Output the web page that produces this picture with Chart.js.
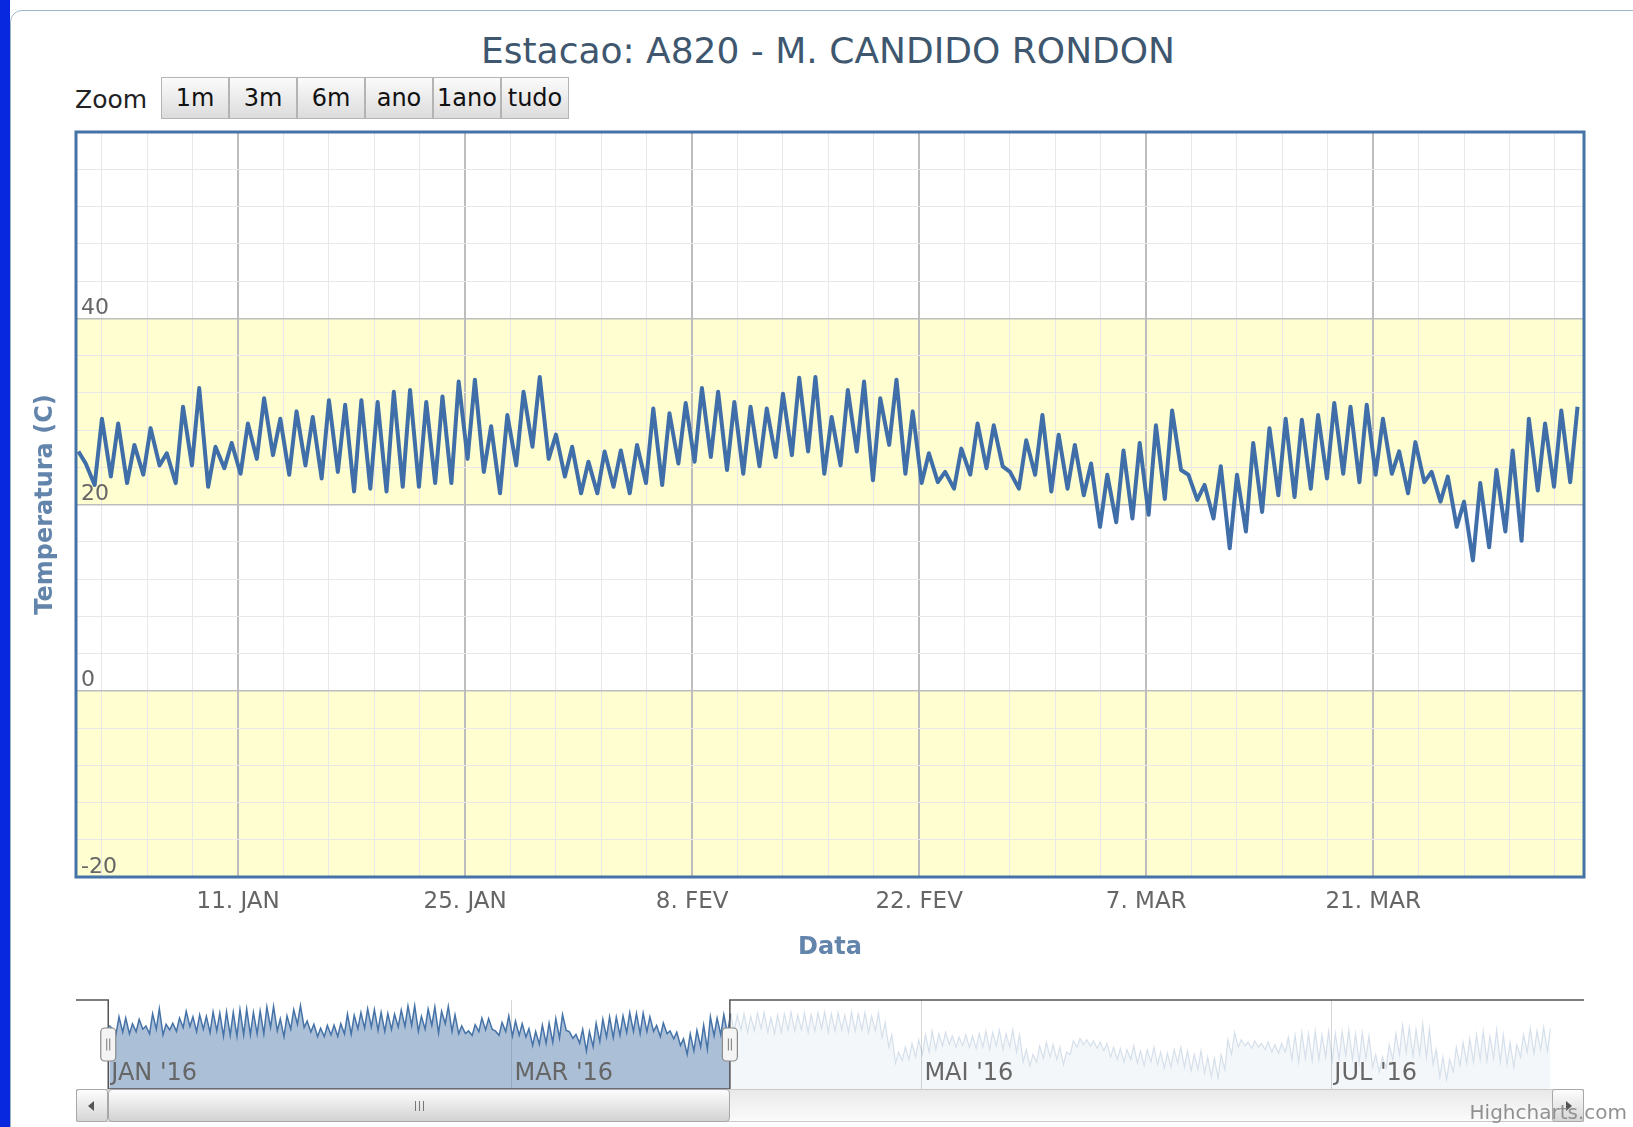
<!doctype html>
<html>
<head>
<meta charset="UTF-8">
<title>Estacao A820</title>
<script src="https://cdn.jsdelivr.net/npm/chart.js@4.4.1/dist/chart.umd.min.js"></script>
<style>
  html, body { margin: 0; padding: 0; background: #fff; }
  body { position: relative; width: 1633px; height: 1127px; overflow: hidden;
         font-family: 'DejaVu Sans', sans-serif; }
  #leftbar { position: absolute; left: 0; top: 0; width: 10px; height: 1127px; background: #0828e0; }
  #frame { position: absolute; left: 10px; top: 10px; width: 1700px; height: 1200px;
           border: 1px solid #9fb4cf; border-radius: 12px; }
  #title { position: absolute; left: 0; top: 29px; width: 1656px; text-align: center;
           font-size: 36px; line-height: 44px; color: #3e576f; }
  #zoomlabel { position: absolute; left: 75px; top: 85px; font-size: 25px; line-height: 30px; color: #222; }
  .zbtn { position: absolute; top: 77px; width: 68px; height: 42px; box-sizing: border-box;
          border: 1px solid #b4b4b4; background: linear-gradient(#fbfbfb, #dcdcdc);
          font-size: 24px; line-height: 40px; text-align: center; color: #111; }
  canvas { position: absolute; left: 0; }
  #mainChart { top: 0; }
  #navChart { top: 990px; }
  #track { position: absolute; left: 76px; top: 1089px; width: 1508px; height: 33px; box-sizing: border-box;
           border: 1px solid #cacaca; background: linear-gradient(#e9e9e9, #fbfbfb); }
  .sbtn { position: absolute; top: 1089px; width: 32px; height: 33px; box-sizing: border-box;
          border: 1px solid #a8a8a8; border-radius: 3px; background: linear-gradient(#fdfdfd, #d6d6d6); }
  .arrow { position: absolute; top: 11px; width: 0; height: 0; border-top: 5px solid transparent; border-bottom: 5px solid transparent; }
  #thumb { position: absolute; top: 1089px; left: 108px; width: 621px; height: 33px; box-sizing: border-box;
           border: 1px solid #a8a8a8; border-radius: 4px; background: linear-gradient(#fdfdfd, #d2d2d2); }
  #grip { position: absolute; left: 50%; top: 11px; width: 7px; height: 10px; margin-left: -4px;
          border-left: 1px solid #777; border-right: 1px solid #777; }
  #grip:after { content: ''; position: absolute; left: 3px; top: 0; height: 10px; border-left: 1px solid #777; }
  #credit { position: absolute; right: 6px; top: 1099px; font-size: 20px; line-height: 26px; color: #909090; }
</style>
</head>
<body>
  <div id="leftbar"></div>
  <div id="frame"></div>
  <div id="title">Estacao: A820 - M. CANDIDO RONDON</div>
  <div id="zoomlabel">Zoom</div>
  <div id="zoombtns"></div>
  <canvas id="mainChart" width="1633" height="985"></canvas>
  <canvas id="navChart" width="1633" height="137"></canvas>
  <div id="track"></div>
  <div class="sbtn" style="left:76px"><div class="arrow" style="left:11px;border-right:6px solid #555"></div></div>
  <div class="sbtn" style="left:1552px"><div class="arrow" style="left:13px;border-left:6px solid #555"></div></div>
  <div id="thumb"><div id="grip"></div></div>
  <div id="credit">Highcharts.com</div>
<script>
// daily minimum (early morning) and maximum (afternoon), 1 Jan 2016 = day 0
const dayLows = [25.7, 22.1, 23.0, 22.3, 23.2, 24.2, 22.3, 24.2, 21.9, 23.9,
                 23.3, 24.9, 25.3, 23.2, 24.2, 22.8, 23.5, 21.4, 21.7, 21.4,
                 21.9, 21.9, 22.3, 22.3, 24.9, 23.5, 21.2, 24.2, 26.2, 24.9,
                 23.0, 21.2, 21.2, 21.9, 21.2, 22.3, 22.1, 24.4, 24.6, 25.1,
                 23.7, 23.3, 24.1, 25.1, 25.3, 25.7, 23.3, 24.2, 25.7, 22.6,
                 26.4, 23.3, 22.3, 22.4, 21.7, 23.2, 23.9, 24.1, 21.7, 23.2,
                 21.4, 21.7, 21.0, 17.6, 18.1, 18.5, 18.9, 20.6, 23.7, 20.5,
                 18.5, 15.3, 17.1, 19.2, 21.0, 20.8, 21.7, 22.8, 23.3, 22.4,
                 23.2, 23.3, 21.2, 22.4, 20.3, 17.6, 14.0, 15.4, 17.1, 16.1,
                 21.5, 21.9, 22.4];
const dayHighs = [24.4, 29.2, 28.7, 26.4, 28.2, 25.5, 30.5, 32.5, 26.2, 26.6,
                  28.7, 31.4, 29.2, 30.0, 29.4, 31.2, 30.7, 31.2, 31.0, 32.1,
                  32.3, 31.0, 31.6, 33.2, 33.4, 28.4, 29.6, 32.1, 33.7, 27.5,
                  26.2, 24.6, 25.7, 25.8, 26.4, 30.3, 29.8, 30.9, 32.5, 32.1,
                  31.0, 30.5, 30.3, 31.9, 33.6, 33.7, 29.4, 32.3, 33.2, 31.4,
                  33.4, 30.0, 25.5, 23.5, 26.0, 28.7, 28.5, 23.5, 26.9, 29.6,
                  27.5, 26.4, 24.4, 23.2, 25.8, 26.6, 28.5, 30.1, 23.2, 22.1,
                  24.1, 23.2, 26.6, 28.2, 29.2, 29.1, 29.6, 30.9, 30.5, 30.7,
                  29.2, 25.7, 26.7, 23.5, 23.0, 20.3, 22.3, 23.7, 25.8, 29.2,
                  28.7, 30.1, 30.5];

// rest of the series, only visible (faded) in the navigator: day 93 .. 214
const laterLows = [23.5, 24.0, 23.0, 23.5, 24.5, 23.0, 22.5, 23.0, 24.0, 23.5, 24.0, 23.0,
                   23.5, 24.5, 23.0, 23.5, 24.0, 23.0, 23.5, 24.0, 23.0, 23.5, 21.0, 17.0,
                   10.5, 11.5, 12.0, 13.0, 14.0, 15.0, 16.0, 17.5, 18.0, 17.0, 17.5, 17.0,
                   16.5, 17.0, 16.0, 17.5, 16.0, 17.0, 15.0,
                   11.0, 9.5, 11.0, 12.5, 13.0, 12.0, 10.0, 14.0, 17.0, 18.0, 17.5, 16.5, 15.5,
                   13.0, 12.0, 11.0, 12.0, 10.5, 9.5, 11.0, 10.0, 8.5, 9.0, 10.5, 9.0,
                   7.5, 8.0, 6.5, 5.0, 4.5, 8.0,
                   14.0, 17.0, 17.5, 16.5, 17.0, 16.0, 15.0, 14.5, 15.0,
                   12.0, 11.0, 12.5, 11.5, 12.0, 13.0, 11.5, 12.0, 13.5, 12.0, 11.0, 12.5, 9.0,
                   7.0, 8.5, 12.0, 14.0, 15.0, 13.5, 14.0, 13.0, 10.0,
                   5.0, 4.0, 7.0,
                   9.5, 10.5, 11.0, 12.0, 11.5, 12.5, 11.0, 10.0, 9.0,
                   13.0, 15.0, 14.5, 16.0, 15.5];
const laterHighs = [30.0, 30.5, 29.5, 30.8, 31.0, 29.0, 30.0, 30.5, 31.2, 30.0, 30.8, 30.2,
                    31.0, 31.3, 30.5, 31.0, 30.0, 31.2, 30.4, 31.0, 29.5, 30.8, 27.0, 22.0,
                    15.0, 17.0, 18.5, 20.0, 22.0, 23.5, 22.5, 23.0, 21.5, 21.0, 22.0, 21.5,
                    22.5, 23.5, 23.0, 24.0, 22.5, 24.0, 22.0,
                    16.0, 14.0, 17.5, 19.0, 18.0, 17.0, 15.0, 19.5, 20.5, 20.0, 19.5, 19.0, 18.5,
                    17.0, 16.5, 16.0, 17.5, 15.5, 16.0, 17.0, 15.0, 14.5, 16.0, 17.0, 15.5,
                    14.0, 15.5, 13.0, 12.5, 14.0, 20.0,
                    23.0, 20.0, 19.0, 19.5, 18.5, 19.0, 18.0, 18.5, 21.0,
                    22.0, 23.0, 22.5, 23.5, 22.0, 23.5, 22.5, 23.5, 24.0, 22.5, 23.0, 21.5, 14.0,
                    13.0, 18.0, 22.5, 26.0, 25.0, 24.0, 26.5, 24.5, 16.0,
                    13.0, 12.0, 17.0,
                    19.0, 20.5, 22.0, 23.5, 21.5, 24.0, 22.0, 19.0, 18.0,
                    22.0, 24.5, 23.5, 25.0, 24.5];

const tickDays = [10, 24, 38, 52, 66, 80];
const tickLabels = ['11. JAN', '25. JAN', '8. FEV', '22. FEV', '7. MAR', '21. MAR'];
const yLabels = [-20, 0, 20, 40];
const bands = [[20, 40], [-20, 0]];
const navTickDays = [0, 60, 121, 182];
const navTickLabels = ["JAN '16", "MAR '16", "MAI '16", "JUL '16"];
const selStart = 0, selEnd = 92.5;
const zoomButtons = ['1m', '3m', '6m', 'ano', '1ano', 'tudo'];

const LOW_AT = 0.15, HIGH_AT = 0.6;   // time of day of min / max
const MINOR_DAYS = 2.8;

Chart.defaults.font.family = "'DejaVu Sans', sans-serif";

const btnHolder = document.getElementById('zoombtns');
zoomButtons.forEach((t, i) => {
  const b = document.createElement('div');
  b.className = 'zbtn';
  b.style.left = (161 + i * 68) + 'px';
  b.textContent = t;
  btnHolder.appendChild(b);
});

function dayPoints(lows, highs, firstDay) {
  const pts = [];
  for (let i = 0; i < lows.length; i++) {
    pts.push({x: firstDay + i + LOW_AT, y: lows[i]});
    pts.push({x: firstDay + i + HIGH_AT, y: highs[i]});
  }
  return pts;
}

const minorDays = [];
let d0 = tickDays[0];
while (d0 - MINOR_DAYS >= 0) d0 -= MINOR_DAYS;
for (let v = d0; v <= 93; v += MINOR_DAYS) minorDays.push(Math.round(v * 100) / 100);
const yTicks = [];
for (let v = -20; v <= 60; v += 4) yTicks.push(v);

const isMajorDay = v => tickDays.some(d => Math.abs(d - v) < 0.01);
const labelForDay = v => {
  const i = tickDays.findIndex(d => Math.abs(d - v) < 0.01);
  return i >= 0 ? tickLabels[i] : '';
};

const plotDecor = {
  id: 'plotDecor',
  beforeDraw(chart) {
    const {ctx, chartArea: a, scales: {y}} = chart;
    ctx.save();
    ctx.fillStyle = '#fefed0';
    bands.forEach(([from, to]) => {
      const y1 = y.getPixelForValue(to), y2 = y.getPixelForValue(from);
      ctx.fillRect(a.left, y1, a.right - a.left, y2 - y1);
    });
    ctx.restore();
  },
  afterDraw(chart) {
    const {ctx, chartArea: a} = chart;
    ctx.save();
    ctx.strokeStyle = '#4572a7';
    ctx.lineWidth = 3;
    ctx.strokeRect(a.left, a.top, a.right - a.left, a.bottom - a.top);
    ctx.restore();
  }
};

new Chart(document.getElementById('mainChart'), {
  type: 'line',
  data: {
    datasets: [{
      data: dayPoints(dayLows, dayHighs, 0),
      borderColor: '#3f6ea8',
      borderWidth: 4,
      borderJoinStyle: 'round',
      pointRadius: 0,
      tension: 0,
      fill: false
    }]
  },
  options: {
    responsive: false,
    animation: false,
    devicePixelRatio: 1,
    layout: { padding: { left: 16, right: 49, top: 132, bottom: 0 } },
    plugins: { legend: { display: false }, tooltip: { enabled: false } },
    scales: {
      x: {
        type: 'linear', min: 0, max: 93,
        afterBuildTicks: s => { s.ticks = minorDays.map(v => ({value: v})); },
        afterFit: s => { s.height = 108; },
        grid: {
          drawTicks: false,
          color: c => isMajorDay(c.tick.value) ? '#bdbdbd' : '#e8e8e8',
          lineWidth: c => isMajorDay(c.tick.value) ? 2 : 1
        },
        border: { display: false },
        ticks: { autoSkip: false, maxRotation: 0, padding: 11, color: '#666', font: { size: 23 },
                 callback: v => labelForDay(v) },
        title: { display: true, text: 'Data', color: '#6384ab', font: { size: 24, weight: 'bold' },
                 padding: { top: 0, bottom: 23 } }
      },
      y: {
        min: -20, max: 60,
        afterBuildTicks: s => { s.ticks = yTicks.map(v => ({value: v})); },
        afterFit: s => { s.width = 60; },
        grid: {
          drawTicks: false,
          color: c => c.tick.value % 20 === 0 ? '#bdbdbd' : '#e8e8e8',
          lineWidth: c => c.tick.value % 20 === 0 ? 1.5 : 1
        },
        border: { display: false },
        ticks: { mirror: true, padding: 5, labelOffset: -10, color: '#666', font: { size: 22 },
                 callback: v => yLabels.includes(v) ? String(v) : '' },
        title: { display: true, text: 'Temperatura (C)', color: '#6384ab', font: { size: 24, weight: 'bold' },
                 padding: { top: 15, bottom: 0 } }
      }
    }
  },
  plugins: [plotDecor]
});

// navigator
function drawHandle(ctx, hx, cy) {
  ctx.beginPath();
  if (ctx.roundRect) ctx.roundRect(hx - 7.5, cy - 16.5, 15, 33, 4);
  else ctx.rect(hx - 7.5, cy - 16.5, 15, 33);
  ctx.fillStyle = '#f4f4f4';
  ctx.fill();
  ctx.lineWidth = 1.2;
  ctx.strokeStyle = '#8a8a8a';
  ctx.stroke();
  ctx.beginPath();
  ctx.moveTo(hx - 1.5, cy - 6); ctx.lineTo(hx - 1.5, cy + 6);
  ctx.moveTo(hx + 1.5, cy - 6); ctx.lineTo(hx + 1.5, cy + 6);
  ctx.strokeStyle = '#777';
  ctx.lineWidth = 1;
  ctx.stroke();
}

const navDecor = {
  id: 'navDecor',
  afterDatasetsDraw(chart) {
    const {ctx, chartArea: a, scales: {x}} = chart;
    const xs = x.getPixelForValue(selStart), xe = x.getPixelForValue(selEnd);
    ctx.save();
    ctx.strokeStyle = '#555';
    ctx.lineWidth = 1.5;
    ctx.beginPath();
    ctx.moveTo(a.left, a.top);
    ctx.lineTo(xs, a.top);
    ctx.lineTo(xs, a.bottom);
    ctx.lineTo(xe, a.bottom);
    ctx.lineTo(xe, a.top);
    ctx.lineTo(a.right, a.top);
    ctx.stroke();
    const cy = (a.top + a.bottom) / 2;
    drawHandle(ctx, xs, cy);
    drawHandle(ctx, xe, cy);
    ctx.restore();
    const thumb = document.getElementById('thumb');
    thumb.style.left = xs + 'px';
    thumb.style.width = (xe - xs) + 'px';
  }
};

const selPts = dayPoints(dayLows, dayHighs, 0);
const laterPts = [selPts[selPts.length - 1]].concat(dayPoints(laterLows, laterHighs, dayLows.length));

new Chart(document.getElementById('navChart'), {
  type: 'line',
  data: {
    datasets: [{
      data: selPts,
      borderColor: '#4572a7',
      backgroundColor: 'rgba(69,114,167,0.45)',
      borderWidth: 1.5,
      pointRadius: 0,
      tension: 0,
      fill: 'start'
    }, {
      data: laterPts,
      borderColor: 'rgba(69,114,167,0.2)',
      backgroundColor: 'rgba(69,114,167,0.06)',
      borderWidth: 1.2,
      pointRadius: 0,
      tension: 0,
      fill: 'start'
    }]
  },
  options: {
    responsive: false,
    animation: false,
    devicePixelRatio: 1,
    layout: { padding: { left: 76, right: 49, top: 10, bottom: 38 } },
    plugins: { legend: { display: false }, tooltip: { enabled: false } },
    scales: {
      x: {
        type: 'linear', min: -4.8, max: 219.6,
        afterBuildTicks: s => { s.ticks = navTickDays.map(v => ({value: v})); },
        afterFit: s => { s.height = 0; },
        grid: { drawTicks: false, color: '#d6d6d6', lineWidth: 1 },
        border: { display: false },
        ticks: {
          z: 1, mirror: true, autoSkip: false, maxRotation: 0, align: 'start', labelOffset: 3, padding: 1,
          color: '#666', font: { size: 24 },
          callback: v => { const i = navTickDays.indexOf(v); return i >= 0 ? navTickLabels[i] : ''; }
        }
      },
      y: { display: false, min: 0, max: 36 }
    }
  },
  plugins: [navDecor]
});
</script>
</body>
</html>
